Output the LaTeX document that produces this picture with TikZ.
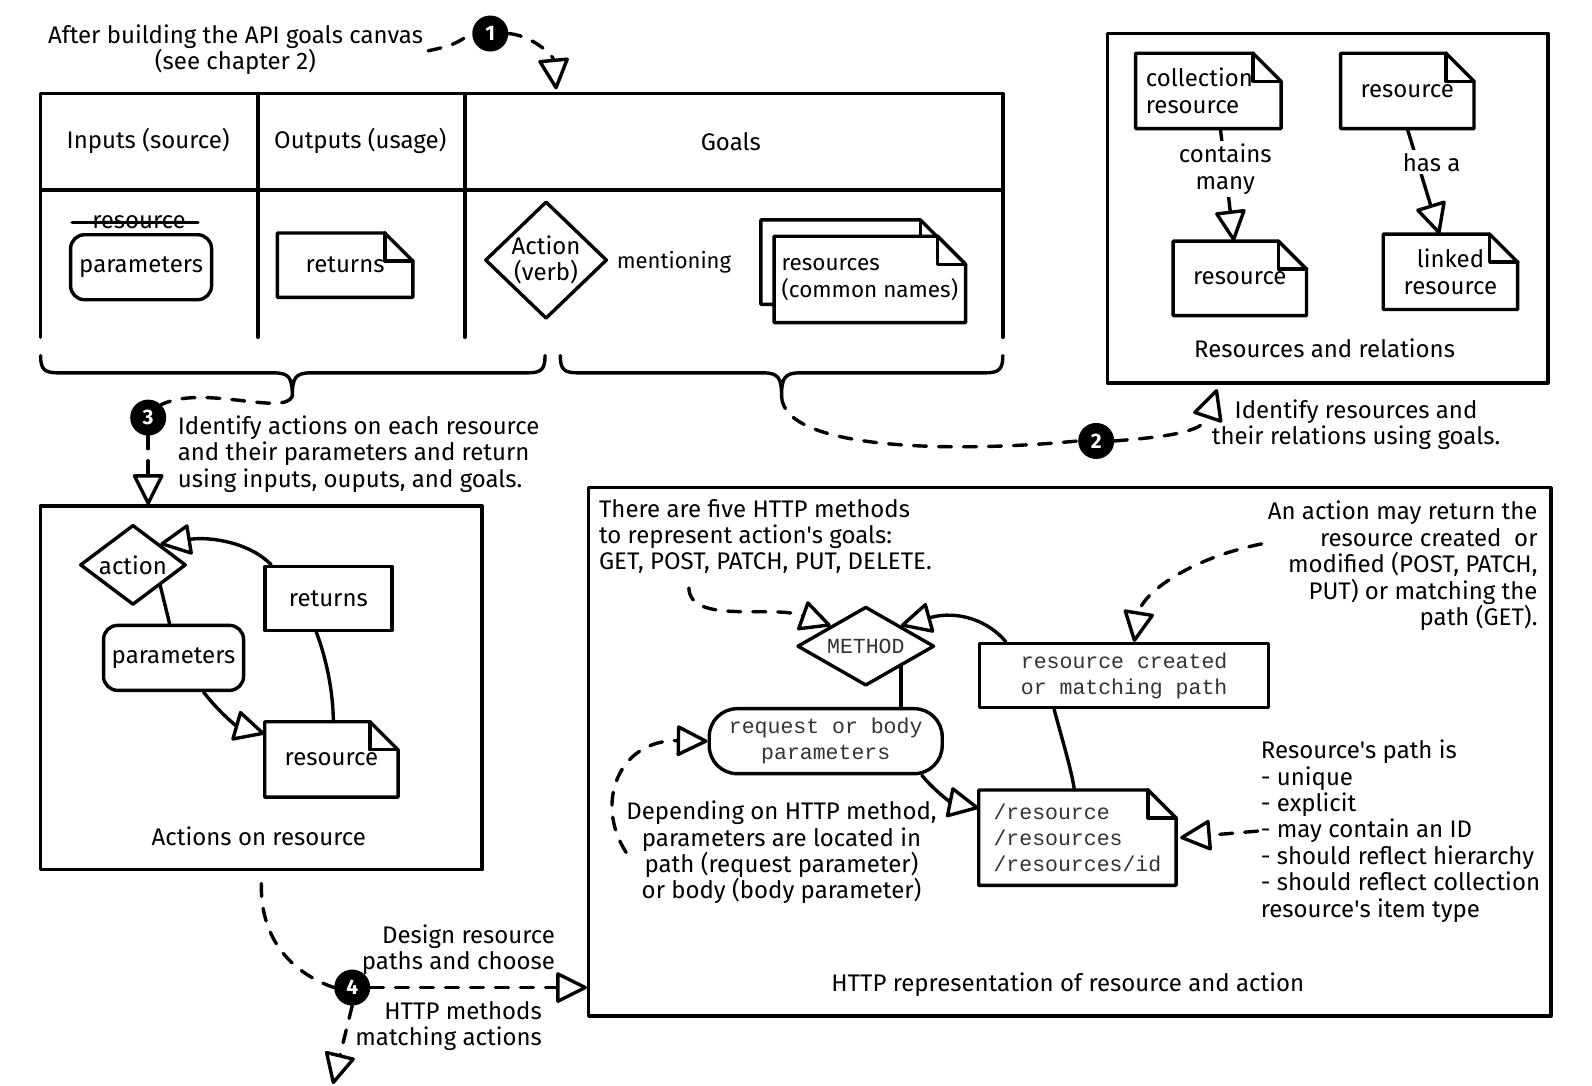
\documentclass[tikz,border=0pt]{standalone}
\usepackage{fontspec}
\setmainfont{Fira Sans}
\setmonofont{Liberation Mono}
\usetikzlibrary{arrows.meta,shapes.geometric,fit,calc}
\pgfdeclarelayer{bg}
\pgfsetlayers{bg,main}
\newcommand\docframe[2][28pt]{%
  \begin{pgfonlayer}{bg}
  \draw[ln,fill=white] (#2.north west) -- ([xshift=-#1]#2.north east) -- ([yshift=-#1]#2.north east) -- (#2.south east) -- (#2.south west) -- cycle;
  \draw[ln] ([xshift=-#1]#2.north east) -- ([xshift=-#1,yshift=-#1]#2.north east) -- ([yshift=-#1]#2.north east);
  \end{pgfonlayer}}
\newcommand\aps{\textquotesingle}
\begin{document}
\begin{tikzpicture}[x=1.015pt, y=-1.016pt,
  ln/.style={line width=3.4pt, line join=round, line cap=round},
  dsh/.style={line width=3.4pt, line cap=round, dash pattern=on 13pt off 12pt},
  arr/.style={-{Triangle[open,length=33pt,width=32pt,round]}},
  txt/.style={font=\fontsize{24}{26.4}\selectfont, inner sep=0pt},
  mono/.style={font=\fontsize{21.5}{26}\selectfont\ttfamily, text=black!80, inner sep=0pt},
  sq/.style={draw, ln, inner sep=0pt},
  rbox/.style={sq, rounded corners=14pt},
  dia/.style={draw, ln, diamond, inner sep=0pt},
  bigbox/.style={draw, ln, inner sep=0pt},
  num/.style={circle, fill=black, minimum size=36pt, inner sep=0pt, text=white, font=\fontsize{21}{21}\selectfont\bfseries},
]
\useasboundingbox (0pt,0pt) rectangle (1592pt,-1086pt);
\begin{pgfonlayer}{bg}
\fill[white] (0pt,0pt) rectangle (1592pt,-1086pt);
\end{pgfonlayer}

% ---- step 1
\node[txt, align=center] (intro) at (232,49) {After building the API goals canvas\\(see chapter 2)};
\node[num] (n1) at (483,33) {1};
\coordinate (c1) at (548,88);
\draw[dsh] ([xshift=5pt,yshift=-1pt]intro.east) .. controls (445,45) .. (n1.west);
\draw[dsh,arr] (n1.east) .. controls (525,35) and (545,55) .. (c1);

% ---- API goals canvas
\draw[ln] (40,92) -- (988,92) (40,187) -- (988,187)
  (40,92) -- (40,332) (254,92) -- (254,332) (458,92) -- (458,332) (988,92) -- (988,332);
\node[txt] (hin) at (146,139) {Inputs (source)};
\node[txt] (hout) at (355,139) {Outputs (usage)};
\node[txt] (hgoal) at (720,139) {Goals};
\node[txt] (strk) at (137,219) {resource};
\draw[ln] ([xshift=-20pt]strk.west) -- ([xshift=12pt]strk.east);
\node[rbox, txt, minimum width=141pt, minimum height=65pt] (par1) at (139,263) {parameters};
\node[txt, minimum width=135pt, minimum height=64pt] (ret1) at (340,261) {returns};
\docframe{ret1}
\node[dia, txt, align=center, minimum width=122pt, minimum height=113pt] (verb) at (538,256) {Action\\(verb)};
\node[txt, font=\fontsize{22}{26.4}\selectfont] (ment) at (664,258) {mentioning};
\node[txt, minimum width=187pt, minimum height=84pt] (rs0) at (842,258) {};
\docframe{rs0}
\node[txt, font=\fontsize{22.5}{26.4}\selectfont, minimum width=191pt, minimum height=86pt, align=left] (rs1) at (857,275) {resources\\(common names)};
\docframe{rs1}

% ---- braces
\coordinate (b1) at (288,390);
\coordinate (b2) at (770,390);
\draw[ln] (40,350) .. controls (40,364) and (44,367) .. (58,367) -- (270,367)
  .. controls (285,367) and (288,372) .. (b1) .. controls (288,372) and (291,367) .. (306,367)
  -- (519,367) .. controls (533,367) and (537,364) .. (537,350);
\draw[ln] (552,350) .. controls (552,364) and (556,367) .. (570,367) -- (752,367)
  .. controls (767,367) and (770,372) .. (b2) .. controls (770,372) and (773,367) .. (788,367)
  -- (970,367) .. controls (984,367) and (988,364) .. (988,350);

% ---- step 3
\node[num] (n3) at (146,411) {3};
\coordinate (c3) at (146,497);
\draw[dsh] (b1) .. controls (280,410) and (200,378) .. (n3.north east);
\draw[dsh,arr] (n3.south) -- (c3);
\node[txt, align=left, anchor=west] (t3) at (175,447) {Identify actions on each resource\\and their parameters and return\\using inputs, ouputs, and goals.};

% ---- step 2
\node[num] (n2) at (1080,434) {2};
\coordinate (c2) at (1199,383);
\draw[dsh] (b2) .. controls (772,445) and (950,445) .. (n2.west);
\draw[dsh,arr] (n2.east) .. controls (1150,430) and (1185,425) .. (c2);
\node[txt, align=center] (t2) at (1336,418) {Identify resources and\\their relations using goals.};

% ---- resources and relations
\node[bigbox, fit={(1091,33) (1525,377)}] (rrbox) {};
\node[txt, minimum width=145pt, minimum height=75pt, text width=125pt, align=left] (cr) at (1190.5,89.5) {collection\\resource};
\docframe{cr}
\node[txt, minimum width=133pt, minimum height=75pt] (rt) at (1386.5,89.5) {resource};
\docframe{rt}
\node[txt, minimum width=133pt, minimum height=74pt] (rl) at (1221.5,274) {resource};
\docframe{rl}
\node[txt, minimum width=134pt, minimum height=75pt, align=center] (lr) at (1429,267.5) {linked\\resource};
\docframe{lr}
\draw[ln,arr] ([xshift=12pt]cr.south) -- node[pos=0.36, txt, fill=white, align=center, inner sep=3pt] (cm) {contains\\many} ([xshift=-6pt]rl.north);
\draw[ln,arr] (rt.south) -- node[pos=0.32, xshift=14pt, txt, fill=white, inner sep=3pt] (ha) {has a} ([xshift=-11pt]lr.north);
\node[txt] (rrt) at (1305,343) {Resources and relations};

% ---- actions on resource
\node[bigbox, fit={(40,498) (475,856)}] (actbox) {};
\node[dia, txt, aspect=1.3, minimum width=106pt, minimum height=80pt] (act) at (131,556) {action};
\node[sq, txt, minimum width=127pt, minimum height=64pt] (ret2) at (323.5,589) {returns};
\node[rbox, txt, minimum width=140pt, minimum height=65pt] (par2) at (171,647.5) {parameters};
\node[txt, minimum width=133pt, minimum height=75pt] (res2) at (326.5,747.5) {resource};
\docframe{res2}
\draw[ln,arr] ([xshift=8pt]ret2.north west) .. controls (245,533) and (205,528) .. (act.north east);
\draw[ln] (act.south east) -- ([xshift=-4pt]par2.north);
\draw[ln,arr] ([xshift=30pt]par2.south) .. controls (215,700) and (232,714) .. ([yshift=-12pt]res2.north west);
\draw[ln] ([xshift=-12pt]ret2.south) .. controls (322,650) and (328,680) .. ([xshift=2pt]res2.north);
\node[txt] (actt) at (255,823) {Actions on resource};

% ---- HTTP representation
\node[bigbox, fit={(580,480) (1528,1000)}] (httpbox) {};
\node[txt, align=left, anchor=west] (t5) at (590,528) {There are five HTTP methods\\to represent action\aps s goals:\\GET, POST, PATCH, PUT, DELETE.};
\node[txt, align=right, anchor=east] (t6) at (1515,557) {An action may return the\\resource created\ \ or\\modified (POST, PATCH,\\PUT) or matching the\\path (GET).};
\node[dia, mono, aspect=1.73, minimum width=137pt, minimum height=79pt] (meth) at (853,636) {METHOD};
\node[sq, mono, align=center, minimum width=289pt, minimum height=64pt] (rc) at (1107.5,665) {resource created\\or matching path};
\node[rbox, mono, rounded corners=28pt, align=center, minimum width=233pt, minimum height=65pt] (rq) at (813.5,729.5) {request or body\\parameters};
\node[mono, align=left, minimum width=197pt, minimum height=95pt] (pth) at (1061.5,824.5) {/resource\\/resources\\/resources/id};
\docframe{pth}
\node[txt, align=center] (t7) at (770,839) {Depending on HTTP method,\\parameters are located in\\path (request parameter)\\or body (body parameter)};
\node[txt, align=left, anchor=west] (t8) at (1242,818) {Resource\aps s path is\\- unique\\- explicit\\- may contain an ID\\- should reflect hierarchy\\- should reflect collection\\resource\aps s item type};
\node[txt] (ht) at (1052,969) {HTTP representation of resource and action};
\draw[dsh,arr] ([xshift=90pt,yshift=-14pt]t5.south west) .. controls (680,615) and (760,595) .. (meth.north west);
\draw[dsh,arr] ([xshift=-6pt,yshift=22pt]t6.west) .. controls (1170,550) and (1125,585) .. ([xshift=10pt]rc.north);
\draw[ln,arr] ([xshift=28pt]rc.north west) .. controls (975,612) and (945,600) .. (meth.north east);
\draw[ln] (meth.south east) -- (meth.south east |- rq.north);
\draw[ln,arr] ([xshift=-22pt]rq.south east) .. controls (922,780) and (938,790) .. ([yshift=-18pt]pth.north west);
\draw[ln] ([xshift=-70pt]rc.south) .. controls (1047,730) and (1055,755) .. ([xshift=-3pt]pth.north);
\draw[dsh,arr] ([xshift=-3pt]t8.west) -- ([xshift=4pt]pth.east);
\draw[dsh,arr] (t7.west) .. controls (585,790) and (610,728) .. (rq.west);

% ---- step 4
\node[num] (n4) at (347,972) {4};
\coordinate (c5) at (328,1067);
\draw[dsh] ([yshift=-12pt]actbox.south) .. controls (256,935) and (300,962) .. (n4.west);
\draw[dsh,arr] (n4.east) -- (n4 -| httpbox.west);
\draw[dsh,arr] (n4.south) -- (c5);
\node[txt, align=right, anchor=east] (t4a) at (547,935) {Design resource\\paths and choose};
\node[txt, align=right, anchor=east] (t4b) at (534,1010) {HTTP methods\\matching actions};
\end{tikzpicture}
\end{document}
